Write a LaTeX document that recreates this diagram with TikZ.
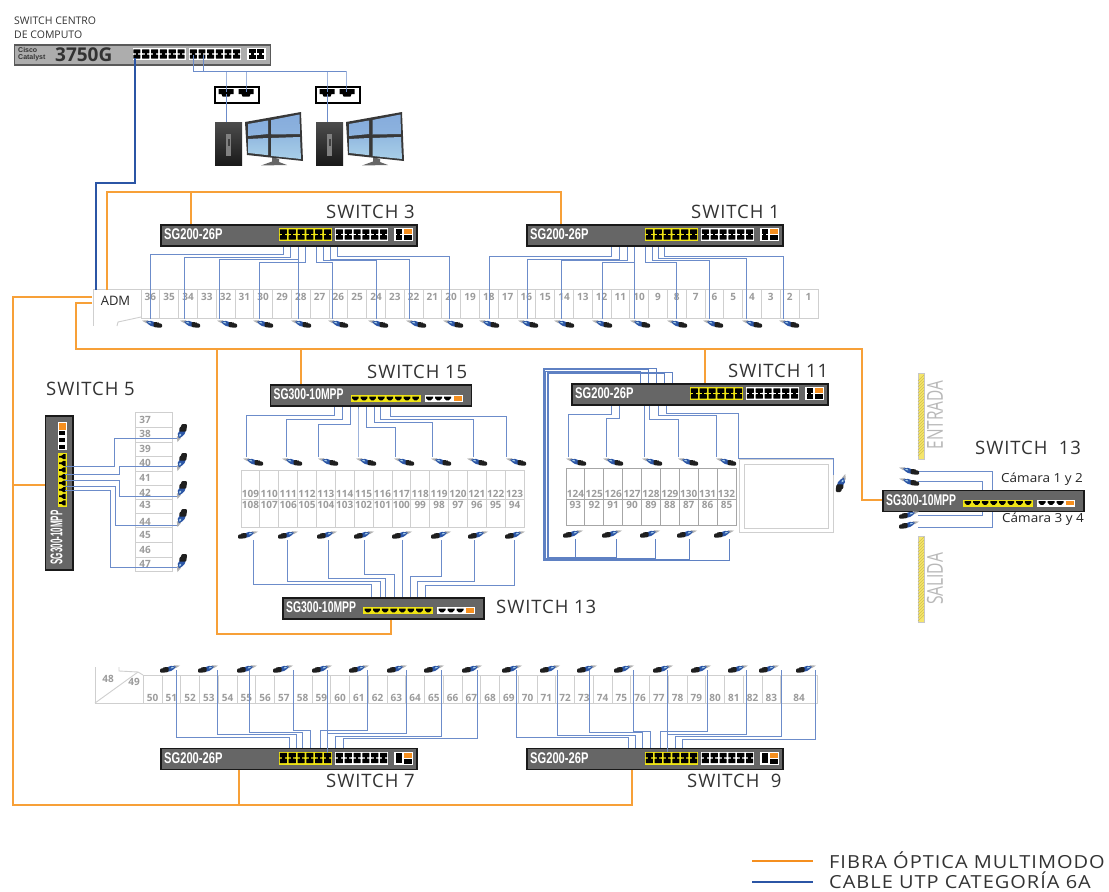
\documentclass[tikz,border=0pt]{standalone}
\usepackage{graphicx}
\usepackage{fontspec}
\setmainfont{Open Sans}
\newfontfamily\lib{Liberation Sans}
\newfontfamily\spaced[LetterSpace=5]{Open Sans}
\definecolor{fib}{HTML}{F7A038}
\definecolor{fibd}{HTML}{F58F1F}
\definecolor{utpc}{HTML}{6C8CCA}
\definecolor{utpd}{HTML}{2B55A5}
\definecolor{cellc}{HTML}{CFCFCF}
\definecolor{numc}{HTML}{9C9C9C}
\definecolor{yel}{HTML}{EFE414}
\definecolor{panA}{HTML}{86ACDC}
\definecolor{panB}{HTML}{A8CFE8}
\definecolor{stripec}{HTML}{F5E56B}
\definecolor{hatchc}{HTML}{D2C24E}
\tikzset{
 fiber/.style={line width=2pt,color=fib},
 fat/.style={line width=2pt,color=utpd},
 utp/.style={line width=1pt,color=utpc},
 utpthin/.style={line width=.7pt,color=utpc!80!utpd},
 cellline/.style={line width=.9pt,color=cellc},
 num/.style={inner sep=0pt,text=numc,font=\fontsize{10}{10}\selectfont\bfseries},
 swlabel/.style={inner sep=0pt,anchor=west,text=black!80,font=\fontsize{18.5}{18.5}\selectfont\spaced},
 chassis/.style={draw=black!90,line width=1.6pt,fill=black!60,inner sep=0pt,anchor=north west},
}
% two-row port block
\newcommand{\dblports}[5]{% x,y,w,h,fill
 \fill[#5] (#1,#2) rectangle ++(#3,#4);
 \pgfmathsetmacro{\cw}{#3/6}
 \foreach \k in {0,...,5}{
  \fill[black,rounded corners=.4pt] ({#1+\k*\cw+.9},{#2+1.3}) rectangle ++({\cw-1.8},{#4/2-2});
  \fill[black,rounded corners=.4pt] ({#1+\k*\cw+.9},{#2+#4/2+.7}) rectangle ++({\cw-1.8},{#4/2-2});
  \fill[black] ({#1+\k*\cw+\cw/2-1.2},{#2+#4/2-1}) rectangle ++(2.4,2);
 }}
\newcommand{\smallports}[3]{% x,y,h  with orange
 \fill[white] (#1,#2) rectangle ++(19,#3);
 \fill[black] ({#1+1.5},{#2+1.2}) rectangle ++(6.5,{#3/2-1.6});
 \fill[black] ({#1+1.5},{#2+#3/2+.4}) rectangle ++(6.5,{#3/2-1.6});
 \fill[black] ({#1+3.4},{#2+#3/2-1}) rectangle ++(2.6,2);
 \fill[black] ({#1+9.5},{#2+#3/2+.5}) rectangle ++(8,{#3/2-1.5});
 \fill[fibd] ({#1+9.5},{#2+1.2}) rectangle ++(8,{#3/2-1.5});
}
\newcommand{\sgtwo}[3]{% name,x,y
 \node[chassis,minimum width=256pt,minimum height=21pt] (#1) at (#2,#3) {};
 \node[inner sep=0pt,anchor=west,text=white] (#1txt) at ({#2+4},{#3+10.5}) {\scalebox{.72}[1]{\lib\fontsize{15.5}{15.5}\selectfont\bfseries SG200-26P}};
 \dblports{#2+119}{#3+4}{53}{13}{yel}
 \dblports{#2+175}{#3+4}{53}{13}{white}
 \smallports{#2+234}{#3+4}{13}
}
% single-row ports, horizontal
\newcommand{\sgthree}[4]{% name,x,y,(yoffset of ports)
 \node[chassis,minimum width=201pt,minimum height=21pt] (#1) at (#2,#3) {};
 \node[inner sep=0pt,anchor=west,text=white] (#1txt) at ({#2+4},{#3+10.5}) {\scalebox{.67}[1]{\lib\fontsize{15.5}{15.5}\selectfont\bfseries SG300-10MPP}};
 \fill[yel] ({#2+81},{#3+#4}) rectangle ++(70,7);
 \foreach \k in {0,...,7}{
  \fill[black] ({#2+81+1.6+\k*8.6},{#3+#4+1.6}) -- ++(6.6,0) -- ++(0,1.6) -- ++(-2.2,2.2) -- ++(-2.2,0) -- ++(-2.2,-2.2) -- cycle;}
 \fill[white] ({#2+155},{#3+#4}) rectangle ++(38,7);
 \foreach \k in {0,1,2}{
  \fill[black] ({#2+156.5+\k*9},{#3+#4+1.6}) -- ++(7,0) -- ++(0,1.6) -- ++(-2.4,2.2) -- ++(-2.2,0) -- ++(-2.4,-2.2) -- cycle;}
 \fill[fibd] ({#2+184},{#3+#4+1.2}) rectangle ++(8,4.6);
}
% camera: silver tail, blue body, black lens; slopes down to the lens
\newcommand{\cambody}{%
  \fill[black!30] (-10,-3.4) -- (-4,-3.8) -- (-2,-.4) -- (-6,-1) -- cycle;
  \fill[utpd] (-6,-2.4) -- (-1,-3.2) -- (3,-1.6) -- (3,2.8) -- (-1,2) -- (-4,0) -- cycle;
  \fill[panB] (-4,-1.8) -- (-1.8,-2.2) -- (-.6,-.6) -- (-2.6,-.8) -- cycle;
  \fill[black!88,rounded corners=1pt] (1.5,-2) -- (6,-2) -- (6,-1) -- (10,-.2) -- (10,3.6) -- (6,3.6) -- (1.5,3) -- cycle;}
\newcommand{\cam}[4]{% x,y,rot,xscale
 \begin{scope}[shift={(#1,#2)},rotate=#3,xscale=#4]\cambody\end{scope}}
\newcommand{\camV}[3]{% x,y,rot: upright camera, a little fatter
 \begin{scope}[shift={(#1,#2)},rotate=#3,yscale=1.35,xscale=.9]\cambody\end{scope}}
\newcommand{\route}[6]{% name,wx,wstart,wy,px,switchanchor
 \coordinate (#1) at (#2,#3);
 \draw[utp] (#1) -- (#2,#4) -- (#5,#4) -- (#5,0 |- #6);}
\newcommand{\plate}[2]{% name,x
 \node[draw=black,line width=2pt,fill=white,inner sep=0pt,minimum width=44pt,minimum height=16pt,anchor=north west] (#1) at (#2,85.5) {};
 \foreach \k in {0,20}{
  \fill[black] ({#2+5+\k},89) -- ++(15,0) -- ++(0,5) -- ++(-3,0) -- ++(-1,2.5) -- ++(-7,0) -- ++(-1,-2.5) -- ++(-3,0) -- cycle;}
}
\newcommand{\workstation}[1]{%
 \begin{scope}[xshift=#1pt]
  \shade[top color=black!70,bottom color=black!90] (215,122) rectangle (242,165);
  \fill[black!50] (226,134) rectangle (231,156);
  \fill[black!75] (227.5,139) rectangle (229.5,146);
  \fill[black!60] (272,157) -- (279,159) -- (279,162) -- (287,165) -- (261,165.5) -- (272,161.5) -- cycle;
  \fill[black!78] (245,122) -- (301,112) -- (303,161) -- (247,155) -- cycle;
  \shade[top color=panA,bottom color=panA!80!panB] (248,124) -- (268,120.5) -- (268,134) -- (248,136) -- cycle;
  \shade[top color=panA,bottom color=panA!80!panB] (271.5,120) -- (299.5,114.5) -- (300,134) -- (271.5,134.5) -- cycle;
  \shade[top color=panA!60!panB,bottom color=panB] (248,139) -- (268,138) -- (268,155.2) -- (248.5,153) -- cycle;
  \shade[top color=panA!60!panB,bottom color=panB] (271.5,138) -- (300,137) -- (301,159) -- (271.5,156) -- cycle;
 \end{scope}}
\newcommand{\stripe}[2]{% ystart,yend
 \fill[stripec] (918,#1) rectangle (924,#2);
 \draw[black!22,line width=.6pt] (918,#1) rectangle (924,#2);
 \foreach \yy in {#1,...,#2}{\ifnum\numexpr\yy-\yy/3*3\relax=0 \ifnum\numexpr\yy+6\relax<#2 \draw[hatchc,line width=.5pt] (918,\yy+6) -- (924,\yy);\fi\fi}
}
\begin{document}
\begin{tikzpicture}[x=1pt,y=-1pt]
\useasboundingbox (0,0) rectangle (1109,892);
\fill[white] (0,0) rectangle (1109,892);

%%% top switch
\node[inner sep=0pt,anchor=west,font=\fontsize{10.5}{10.5}\selectfont,text=black!80] (titA) at (14,21) {SWITCH CENTRO};
\node[inner sep=0pt,anchor=west,font=\fontsize{10.5}{10.5}\selectfont,text=black!80] (titB) at (14,35) {DE COMPUTO};
\node[draw=black!65,line width=1.6pt,fill=black!32,inner sep=0pt,minimum width=256pt,minimum height=20pt,anchor=north west] (sw0) at (13.5,44) {};
\node[inner sep=0pt,anchor=west,align=left,font=\lib\fontsize{7}{7}\selectfont\bfseries,text=black!80] (sw0a) at (18,54) {Cisco\\Catalyst};
\node[inner sep=0pt,anchor=west,font=\fontsize{19}{19}\selectfont\bfseries,text=black!80] (sw0b) at (55,55) {3750G};
\dblports{132.5}{48}{53}{12}{white}
\dblports{189}{48}{52}{12}{white}
\fill[white] (247,48) rectangle ++(19,12);
\foreach \xx in {248.5,257}{\fill[black] (\xx,49) rectangle ++(7,4); \fill[black] (\xx,55) rectangle ++(7,4); \fill[black] (\xx+2,52) rectangle ++(3,4);}

\plate{pla}{213.5}
\plate{plb}{314.5}
\workstation{0}
\workstation{101}
\coordinate (pa) at (193,55);
\coordinate (pb) at (203,55);
\coordinate (bus) at (346,71);
\draw[utp] (pa) -- (193,71) -- (bus);
\draw[utp] (pb) -- (203,71);
\foreach \xx/\pp in {226/pla,246/pla,327/plb,346/plb}{\draw[utp] (\xx,71) -- (\xx,0 |- \pp.north) -- (\xx,92);}
\draw[utp] (226,94) -- (226,122);
\draw[utp] (327,94) -- (327,122);

%%% strip 36..1
\draw[cellline] (141,289) -- (93,289) -- (93,326);
\draw[cellline] (141,289) -- (818,289) -- (818,318) -- (141,318) -- (141,289);
\draw[cellline] (141,317) -- (118,322) -- (117,326);
\foreach \i in {1,...,35}{\draw[cellline] ({141+18.8*\i},289) -- ({141+18.8*\i},318);}
\foreach \i in {0,...,35}{\pgfmathtruncatemacro{\nn}{36-\i}\node[num] (nA\nn) at ({150.4+18.8*\i},297) {\nn};}
\node[inner sep=0pt,font=\fontsize{13}{13}\selectfont,text=black!85] (adm) at (115.5,301) {ADM};

%%% Switches row 1
\sgtwo{sw3}{160}{224}
\sgtwo{sw1}{526}{224}
\node[swlabel] (lab3) at (326,212) {SWITCH 3};
\node[swlabel] (lab1) at (691,212) {SWITCH 1};
\foreach \n/\cx/\wx/\wy/\px in {a/152/150.7/254.7/283.7,b/190/184.3/257/290.7,c/227/219.3/259/298,d/263/259/262/305,e/301/298.3/250/298.3,f/338/332.7/262/316,g/378/376.7/260.7/323.7,h/416/409/259/330,i/453/449/256/337}{
 \route{sIIIc\n}{\wx}{319}{\wy}{\px}{sw3.south}
 \cam{\cx}{324}{0}{1}}
\foreach \n/\cx/\wx/\wy/\px in {a/489/489/256/611.7,b/528/527.3/259/619.7,c/564/561/260.7/627,d/602/602/262.7/634.3,e/640/634.3/250/634.3,f/677/676/262.7/645.7,g/713/709/260.7/652,h/752/746.7/258/658.7,i/789/783.3/256/664}{
 \route{sIc\n}{\wx}{319}{\wy}{\px}{sw1.south}
 \cam{\cx}{324}{0}{1}}

%%% Switch 15 block
\draw[cellline] (241,470) rectangle (524,527.5);
\draw[cellline] (241,499) -- (524,499);
\foreach \i in {1,...,14}{\draw[cellline] ({241+18.87*\i},470) -- ({241+18.87*\i},527.5);}
\foreach \i in {0,...,14}{
 \pgfmathtruncatemacro{\nt}{109+\i}\pgfmathtruncatemacro{\nb}{108-\i}
 \node[num] (nB\nt) at ({250.4+18.87*\i},494) {\nt};
 \node[num] (nC\nb) at ({250.4+18.87*\i},505) {\nb};}
\sgthree{sw15}{269.5}{384}{11}
\sgthree{sw13b}{282}{597}{10}
\node[swlabel] (lab15) at (367,372) {SWITCH 15};
\node[swlabel] (lab13b) at (496,607) {SWITCH 13};
\foreach \n/\cx/\wx/\wy/\px in {a/253/246/415.7/334.7,b/292/286/419/342.7,c/328/318/424.7/350.3,d/366/358/410/358,e/404/395.7/427/366.7,f/441/432.3/422.3/374.3,g/477/473.3/419.3/380.7,h/516/506.7/416/390}{
 \route{sXVc\n}{\wx}{457}{\wy}{\px}{sw15.south}
 \cam{\cx}{462}{0}{1}}
\foreach \n/\cx/\wx/\wy/\px in {a/248/253/584.7/371,b/288/287.3/581.7/380,c/327/328.3/578.3/385.7,d/364/364.3/574.3/394,e/402/402.3/590/402.3,f/441/441.7/576.7/410,g/478/474/581/417.3,h/515/514.3/585.3/425.7}{
 \route{sXIIIc\n}{\wx}{540}{\wy}{\px}{sw13b.north}
 \cam{\cx}{535}{0}{-1}}

%%% Switch 11 block
\draw[cellline,color=black!35] (566,468) rectangle (736,525.5);
\draw[cellline,color=black!35] (566,499) -- (736,499);
\foreach \i in {1,...,8}{\draw[cellline,color=black!35] ({566+18.89*\i},468) -- ({566+18.89*\i},525.5);}
\foreach \i in {0,...,8}{
 \pgfmathtruncatemacro{\nt}{124+\i}\pgfmathtruncatemacro{\nb}{93-\i}
 \node[num] (nD\nt) at ({575.4+18.89*\i},494) {\nt};
 \node[num] (nE\nb) at ({575.4+18.89*\i},505) {\nb};}
\node[draw=cellc,line width=1pt,inner sep=0pt,minimum width=93.5pt,minimum height=72.5pt,anchor=north west] (room) at (739.3,459.3) {};
\node[draw=cellc,line width=1pt,inner sep=0pt,minimum width=83.5pt,minimum height=64pt,anchor=north west] (roomi) at (744.3,464.3) {};
\sgtwo{sw11}{571}{383}
\node[swlabel] (lab11) at (728,371) {SWITCH 11};
\foreach \n/\cx/\wx/\wy/\px in {a/576/568.3/414.3/611,b/613/606.3/418.3/619.7,c/652/644.7/410/644.7,d/688/678.3/419/649.7,e/726/716/415.7/658.3}{
 \route{sXIc\n}{\wx}{457}{\wy}{\px}{sw11.south}
 \cam{\cx}{462}{0}{1}}
\coordinate (camroom) at (833.3,475);
\draw[utp] (camroom) -- (833.3,458.3) -- (738.3,458.3) -- (738.3,413.3) -- (666.3,413.3) -- (666.3,0 |- sw11.south);
\camV{840.7}{483}{-90}
\foreach \n/\cx/\wx/\bx/\bt/\by/\px in {a/724/729.3/543/368/560/656,b/687/689.3/544.4/369.6/559.2/648.3,c/650/655/545.8/371.2/558.4/640,d/612/616.3/547.2/372.4/557.6/672.7,e/573/575.7/548.2/373.4/557/664.3}{
 \coordinate (sXIb\n) at (\wx,539);
 \draw[utpthin] (sXIb\n) -- (\wx,\by) -- (\bx,\by) -- (\bx,\bt) -- (\px,\bt) -- (\px,0 |- sw11.north);
 \cam{\cx}{534}{0}{-1}}

%%% Switch 13 right
\stripe{373}{459}
\stripe{536}{622}
\node[inner sep=0pt,rotate=90,text=black!28] (ent) at (935,415) {\scalebox{.7}[1]{\fontsize{22}{22}\selectfont ENTRADA}};
\node[inner sep=0pt,rotate=90,text=black!28] (sal) at (935,579) {\scalebox{.71}[1]{\fontsize{22}{22}\selectfont SALIDA}};
\sgthree{sw13}{882}{489.5}{10}
\node[swlabel] (lab13) at (975,448) {SWITCH\ \ 13};
\node[inner sep=0pt,anchor=west,text=black!85] (camA) at (1001,479) {\scalebox{1.08}[1]{\fontsize{12.5}{12.5}\selectfont Cámara 1 y 2}};
\node[inner sep=0pt,anchor=west,text=black!85] (camB) at (1002,519) {\scalebox{1.08}[1]{\fontsize{12.5}{12.5}\selectfont Cámara 3 y 4}};
\coordinate (cr1) at (918,471);
\coordinate (cr2) at (918,481.7);
\coordinate (cr3) at (918,515);
\coordinate (cr4) at (918,527.7);
\draw[utp] (cr1) -- (992,471) -- (992,0 |- sw13.north);
\draw[utp] (cr2) -- (982,481.7) -- (982,0 |- sw13.north);
\draw[utp] (cr3) -- (982,515) -- (982,0 |- sw13.south);
\draw[utp] (cr4) -- (992,527.7) -- (992,0 |- sw13.south);
\cam{909}{471}{0}{1}
\cam{909}{482}{0}{1}
\cam{909}{515}{0}{-1}
\cam{909}{525}{0}{-1}

%%% Switch 5
\draw[cellline] (135,412) rectangle (172,571);
\foreach \yy in {427,442,456,471,485,499,513,527,542,557}{\draw[cellline] (135,\yy) -- (172,\yy);}
\foreach \nn/\yy in {37/419.5,38/433.5,39/449,40/463,41/477.5,42/492.5,43/505,44/522,45/535,46/550,47/564}{\node[num] (nF\nn) at (145,\yy) {\nn};}
\node[chassis,minimum width=27.5pt,minimum height=154pt] (sw5) at (44.5,415) {};
\fill[white] (57.5,422) rectangle (67,450);
\fill[fibd] (58.5,423) rectangle (66,429.5);
\foreach \yy in {431,438,445}{\fill[black] (59,\yy) rectangle ++(6,4);}
\fill[yel] (57.5,453) rectangle (67,507);
\foreach \k in {0,...,7}{\fill[black] (65.5,{454.2+\k*6.6}) -- ++(0,5) -- ++(-2,0) -- ++(-2.2,-1.6) -- ++(-2.2,0) -- ++(0,-1.8) -- ++(2.2,0) -- ++(2.2,-1.6) -- cycle;}
\node[inner sep=0pt,rotate=90,text=white] (sw5txt) at (56.5,537.5) {\scalebox{.47}[1]{\lib\fontsize{17}{17}\selectfont\bfseries SG300-10MPP}};
\node[swlabel] (lab5) at (46,389) {SWITCH 5};
\foreach \n/\cy/\wy/\wx/\py in {a/433/438/114/466.7,b/462/466.7/119/474,c/490/496/119/480.7,d/518/525.7/115/486.7,e/563/567/110/490.7}{
 \coordinate (sVc\n) at (179,\wy);
 \coordinate (sVp\n) at (65,\py);
 \draw[utp] (sVc\n) -- (\wx,\wy) -- (\wx,\py) -- (sVp\n);
 \camV{182}{\cy}{90}}

%%% bottom strip
\draw[cellline] (119,667) -- (119,671) -- (138,672) -- (143,675);
\draw[cellline] (95,667) -- (95,703) -- (817,703) -- (817,675) -- (143,675) -- (143,703);
\draw[cellline] (95,703) -- (138,672);
\foreach \i in {1,...,34}{\draw[cellline] ({143.3+18.75*\i},675) -- ({143.3+18.75*\i},703);}
\foreach \i in {0,...,33}{\pgfmathtruncatemacro{\nn}{50+\i}\node[num] (nG\nn) at ({152.6+18.75*\i},698) {\nn};}
\node[num] (nG84) at (799,698) {84};
\node[num] (nG48) at (108,679) {48};
\node[num] (nG49) at (134,682) {49};
\sgtwo{sw7}{160}{747.5}
\sgtwo{sw9}{526}{747.5}
\node[swlabel] (lab7) at (326,781) {SWITCH 7};
\node[swlabel] (lab9) at (687,781) {SWITCH\ \ 9};
\foreach \n/\cx/\wx/\wy/\px in {a/170/176.7/737/289,b/208/217.3/734.3/296.7,c/247/249.3/732.3/302.3,d/283/293.3/730/310.3,e/322/327.7/740/327.7,f/359/367.3/730.3/320.7,g/397/406/733.3/327.7,h/434/441.7/736/335.7,i/472/477/738.3/343.3}{
 \route{sVIIc\n}{\wx}{670}{\wy}{\px}{sw7.north}
 \cam{\cx}{669}{0}{-1}}
\foreach \n/\cx/\wx/\wy/\px in {a/512/516.7/737.7/628.7,b/550/557.3/735/635.7,c/587/589.3/732.3/642.3,d/624/633.3/731/650.3,e/663/667.7/740/667.7,f/701/707.3/731.7/660.7,g/738/746/734/667.7,h/769/781.7/736.7/675,i/806/815/739/682.3}{
 \route{sIXc\n}{\wx}{670}{\wy}{\px}{sw9.north}
 \cam{\cx}{669}{0}{-1}}
\draw[utp] (327.7,747) -- (327.7,753);
\draw[utp] (667.7,747) -- (667.7,752);

%%% trunks
\coordinate (fatA) at (135,58);
\coordinate (fatB) at (96,290);
\draw[fat] (fatA) -- (135,183) -- (96,183) -- (fatB);
\coordinate (oA) at (107,290);
\coordinate (oB) at (92,297);
\coordinate (oC) at (92,303);
\draw[fiber] (oA) -- (107,192) -- (561,192) -- (561,0 |- sw1.north);
\draw[fiber] (191,192) -- (191,0 |- sw3.north);
\draw[fiber] (oB) -- (13,297) -- (13,805) -- (632,805) -- (632,0 |- sw9.south);
\draw[fiber] (239,805) -- (239,0 |- sw7.south);
\draw[fiber] (13,485) -- (sw5.west |- 0,485);
\draw[fiber] (oC) -- (76,303) -- (76,349) -- (862,349) -- (862,500) -- (sw13.west |- 0,500);
\draw[fiber] (301,349) -- (301,0 |- sw15.north);
\draw[fiber] (705,349) -- (705,0 |- sw11.north);
\draw[fiber] (217,349) -- (217,634) -- (391,634) -- (391,0 |- sw13b.south);

%%% legend
\coordinate (lgA) at (752,861);
\coordinate (lgB) at (813,861);
\coordinate (lgC) at (752,882);
\coordinate (lgD) at (813,882);
\draw[line width=2.6pt,color=fibd] (lgA) -- (lgB);
\draw[line width=2.6pt,color=utpd] (lgC) -- (lgD);
\node[inner sep=0pt,anchor=west,text=black!80] (lgT1) at (829,860) {\scalebox{1.11}[1]{\fontsize{18}{18}\selectfont\spaced FIBRA ÓPTICA MULTIMODO}};
\node[inner sep=0pt,anchor=west,text=black!80] (lgT2) at (829,880.5) {\scalebox{1.11}[1]{\fontsize{18}{18}\selectfont\spaced CABLE UTP CATEGORÍA 6A}};
\end{tikzpicture}
\end{document}
